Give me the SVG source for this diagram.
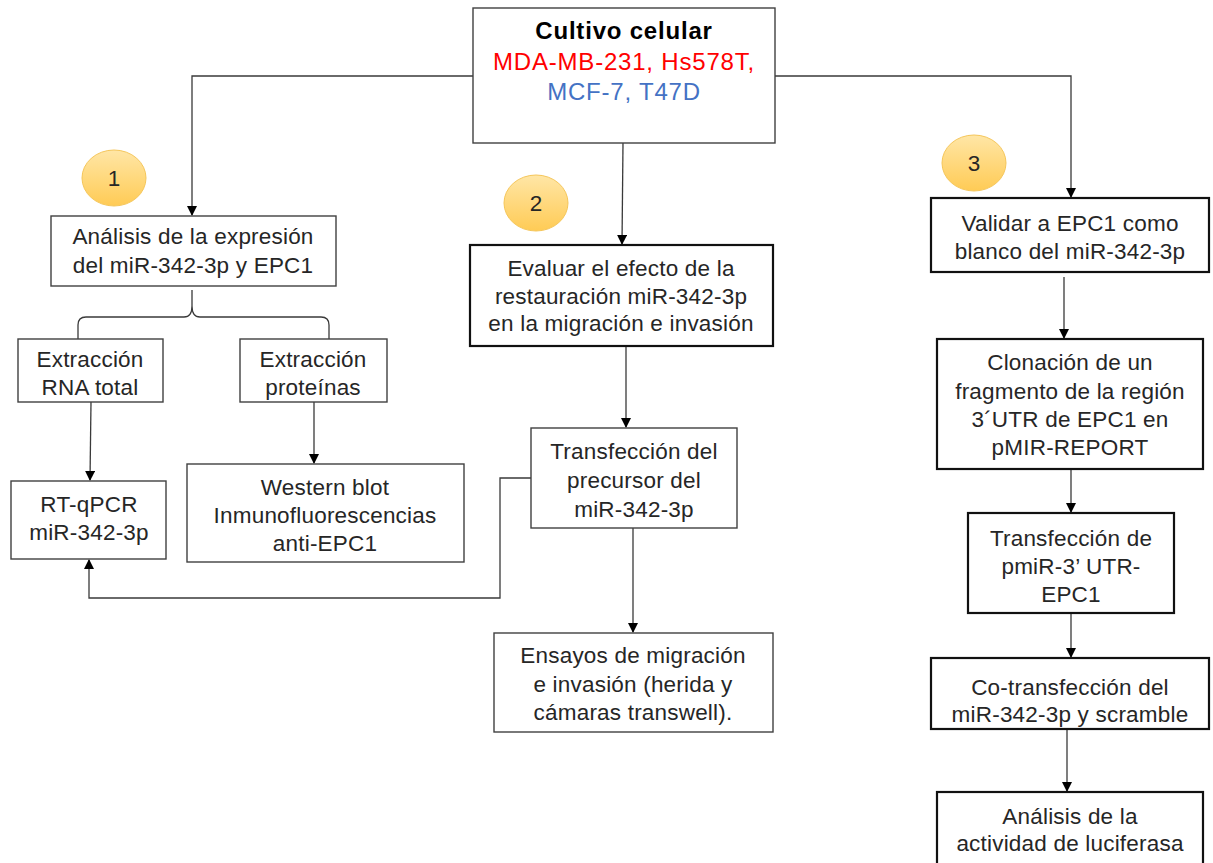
<svg xmlns="http://www.w3.org/2000/svg" width="1213" height="863" viewBox="0 0 1213 863">
<defs>
<marker id="ah" markerWidth="10" markerHeight="10" refX="9" refY="5" orient="auto" markerUnits="userSpaceOnUse">
<path d="M0,0 L10,5 L0,10 Z" fill="#000"/>
</marker>
<linearGradient id="badge" x1="0" y1="0" x2="0" y2="1">
<stop offset="0" stop-color="#FFE6A6"/>
<stop offset="1" stop-color="#FFCB55"/>
</linearGradient>
</defs>
<style>
.box{fill:#fff;stroke:#404040;stroke-width:1.4}
.thick{fill:#fff;stroke:#111;stroke-width:2.2}
.t{font-family:"Liberation Sans",Arial,sans-serif;font-size:22.5px;letter-spacing:0.2px;fill:#262626;text-anchor:middle}
.h{font-size:24px;letter-spacing:0.8px}
.c{fill:none;stroke:#3a3a3a;stroke-width:1.3}
.badge{fill:url(#badge);stroke:#F5C65A;stroke-width:1}
</style>
<g id="connectors">
<polyline class="c" points="473,76 192,76 192,215" marker-end="url(#ah)"/>
<polyline class="c" points="775,76 1071,76 1071,197" marker-end="url(#ah)"/>
<line class="c" x1="623" y1="143" x2="622" y2="244" marker-end="url(#ah)"/>
<path class="c" d="M192,290 L192,306 Q192,317 184,317 L86,317 Q78,317 78,325 L78,339 M192,306 Q192,317 200,317 L321,317 Q329,317 329,325 L329,339"/>
<line class="c" x1="91" y1="402" x2="90" y2="480" marker-end="url(#ah)"/>
<line class="c" x1="314" y1="402" x2="314" y2="463" marker-end="url(#ah)"/>
<polyline class="c" points="531,478 500,478 500,598 89,598 89,560" marker-end="url(#ah)"/>
<line class="c" x1="626" y1="346" x2="626" y2="427" marker-end="url(#ah)"/>
<line class="c" x1="633" y1="528" x2="633" y2="632" marker-end="url(#ah)"/>
<line class="c" x1="1064" y1="277" x2="1064" y2="338" marker-end="url(#ah)"/>
<line class="c" x1="1071" y1="469" x2="1071" y2="512" marker-end="url(#ah)"/>
<line class="c" x1="1071" y1="613" x2="1071" y2="657" marker-end="url(#ah)"/>
<line class="c" x1="1067" y1="729" x2="1067" y2="791" marker-end="url(#ah)"/>
</g>
<g id="cultivo">
<rect class="box" x="473" y="8" width="302" height="135"/>
<text class="t h" x="624" y="39" style="font-weight:bold;fill:#000">Cultivo celular</text>
<text class="t h" x="624" y="70" style="fill:#FF0000">MDA-MB-231, Hs578T,</text>
<text class="t h" x="624" y="100" style="fill:#4472C4">MCF-7, T47D</text>
</g>
<g id="badge1"><ellipse class="badge" cx="114" cy="178" rx="32" ry="28"/><text class="t" x="114" y="186">1</text></g>
<g id="badge2"><ellipse class="badge" cx="536" cy="203" rx="32" ry="28"/><text class="t" x="536" y="211">2</text></g>
<g id="badge3"><ellipse class="badge" cx="974" cy="163" rx="32" ry="28"/><text class="t" x="974" y="171">3</text></g>
<g id="analisis">
<rect class="box" x="51" y="216" width="285" height="70"/>
<text class="t" x="193" y="244">Análisis de la expresión</text>
<text class="t" x="193" y="273">del miR-342-3p y EPC1</text>
</g>
<g id="extrRNA">
<rect class="box" x="18" y="339" width="145" height="63"/>
<text class="t" x="90" y="367">Extracción</text>
<text class="t" x="90" y="395">RNA total</text>
</g>
<g id="extrProt">
<rect class="box" x="240" y="339" width="147" height="63"/>
<text class="t" x="313" y="367">Extracción</text>
<text class="t" x="313" y="395">proteínas</text>
</g>
<g id="rtqpcr">
<rect class="box" x="11" y="481" width="155" height="78"/>
<text class="t" x="89" y="512">RT-qPCR</text>
<text class="t" x="89" y="540">miR-342-3p</text>
</g>
<g id="western">
<rect class="box" x="187" y="464" width="277" height="98"/>
<text class="t" x="325" y="495">Western blot</text>
<text class="t" x="325" y="523">Inmunofluorescencias</text>
<text class="t" x="325" y="551">anti-EPC1</text>
</g>
<g id="evaluar">
<rect class="thick" x="470" y="245" width="303" height="101"/>
<text class="t" x="621" y="276">Evaluar el efecto de la</text>
<text class="t" x="621" y="304">restauración miR-342-3p</text>
<text class="t" x="621" y="331">en la migración e invasión</text>
</g>
<g id="transfPrec">
<rect class="box" x="531" y="428" width="206" height="100"/>
<text class="t" x="634" y="459">Transfección del</text>
<text class="t" x="634" y="488">precursor del</text>
<text class="t" x="634" y="517">miR-342-3p</text>
</g>
<g id="ensayos">
<rect class="box" x="494" y="633" width="279" height="99"/>
<text class="t" x="633" y="663">Ensayos de migración</text>
<text class="t" x="633" y="692">e invasión (herida y</text>
<text class="t" x="633" y="720">cámaras transwell).</text>
</g>
<g id="validar">
<rect class="thick" x="931" y="198" width="278" height="74"/>
<text class="t" x="1070" y="231">Validar a EPC1 como</text>
<text class="t" x="1070" y="259">blanco del miR-342-3p</text>
</g>
<g id="clonacion">
<rect class="thick" x="937" y="339" width="266" height="130"/>
<text class="t" x="1070" y="370">Clonación de un</text>
<text class="t" x="1070" y="399">fragmento de la región</text>
<text class="t" x="1070" y="427">3´UTR de EPC1 en</text>
<text class="t" x="1070" y="455">pMIR-REPORT</text>
</g>
<g id="transfDe">
<rect class="thick" x="968" y="513" width="206" height="100"/>
<text class="t" x="1071" y="546">Transfección de</text>
<text class="t" x="1071" y="574">pmiR-3’ UTR-</text>
<text class="t" x="1071" y="602">EPC1</text>
</g>
<g id="cotransf">
<rect class="thick" x="931" y="658" width="278" height="71"/>
<text class="t" x="1070" y="695">Co-transfección del</text>
<text class="t" x="1070" y="722">miR-342-3p y scramble</text>
</g>
<g id="luciferasa">
<rect class="thick" x="937" y="792" width="266" height="80"/>
<text class="t" x="1070" y="824">Análisis de  la</text>
<text class="t" x="1070" y="851">actividad de luciferasa</text>
</g>
</svg>
